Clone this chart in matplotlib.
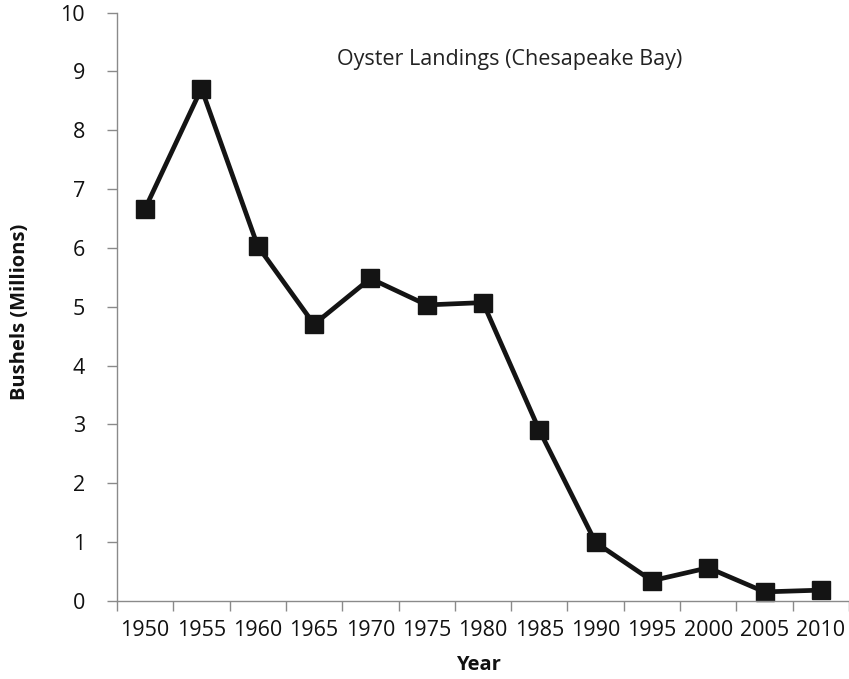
import numpy as np
import matplotlib.pyplot as plt

# Oyster landings, Chesapeake Bay (millions of bushels)
years = ["1950", "1955", "1960", "1965", "1970", "1975", "1980",
         "1985", "1990", "1995", "2000", "2005", "2010"]
bushels = [6.67, 8.71, 6.03, 4.70, 5.48, 5.03, 5.07,
           2.90, 0.99, 0.34, 0.56, 0.15, 0.18]
y_ticks = list(range(0, 11))

plt.rcParams["font.family"] = ["Open Sans", "DejaVu Sans"]

fig = plt.figure(figsize=(8.49, 6.79), dpi=100)
ax = fig.add_axes([0.1378, 0.1153, 0.8622, 0.866])

x = np.arange(len(years))
ax.plot(x, bushels, color="#141414", linewidth=3.4, marker="s",
        markersize=13, markerfacecolor="#141414", markeredgecolor="#141414",
        solid_joinstyle="miter", clip_on=False)

ax.set_xlim(-0.5, len(years) - 0.5)
ax.set_ylim(0, 10)

# category axis: ticks at boundaries, labels in the middle
ax.set_xticks(np.arange(len(years) + 1) - 0.5)
ax.set_xticklabels([])
ax.set_xticks(x, minor=True)
ax.set_xticklabels(years, minor=True, fontsize=15.5, color="#111111")
ax.tick_params(axis="x", which="minor", length=0, pad=14)
ax.tick_params(axis="x", which="major", length=7, width=1, color="#8a8a8a",
               direction="out")

ax.set_yticks(y_ticks)
ax.set_yticklabels([str(t) for t in y_ticks], fontsize=15.5, color="#111111")
ax.tick_params(axis="y", length=7, width=1, color="#8a8a8a", direction="out",
               pad=16)

for side in ["top", "right"]:
    ax.spines[side].set_visible(False)
for side in ["left", "bottom"]:
    ax.spines[side].set_color("#8a8a8a")
    ax.spines[side].set_linewidth(1)

fig.text(509.5 / 849, 1 - 60 / 679, "Oyster Landings (Chesapeake Bay)",
         fontsize=15.5, color="#222222", ha="center", va="center")
fig.text(478 / 849, 1 - 665 / 679, "Year", fontsize=14.5,
         fontweight="bold", ha="center", va="center", color="#111111")
fig.text(20 / 849, 1 - 312 / 679, "Bushels (Millions)", fontsize=14.5,
         fontweight="bold", ha="center", va="center", rotation=90,
         color="#111111")

fig.savefig("out.png", dpi=100)
